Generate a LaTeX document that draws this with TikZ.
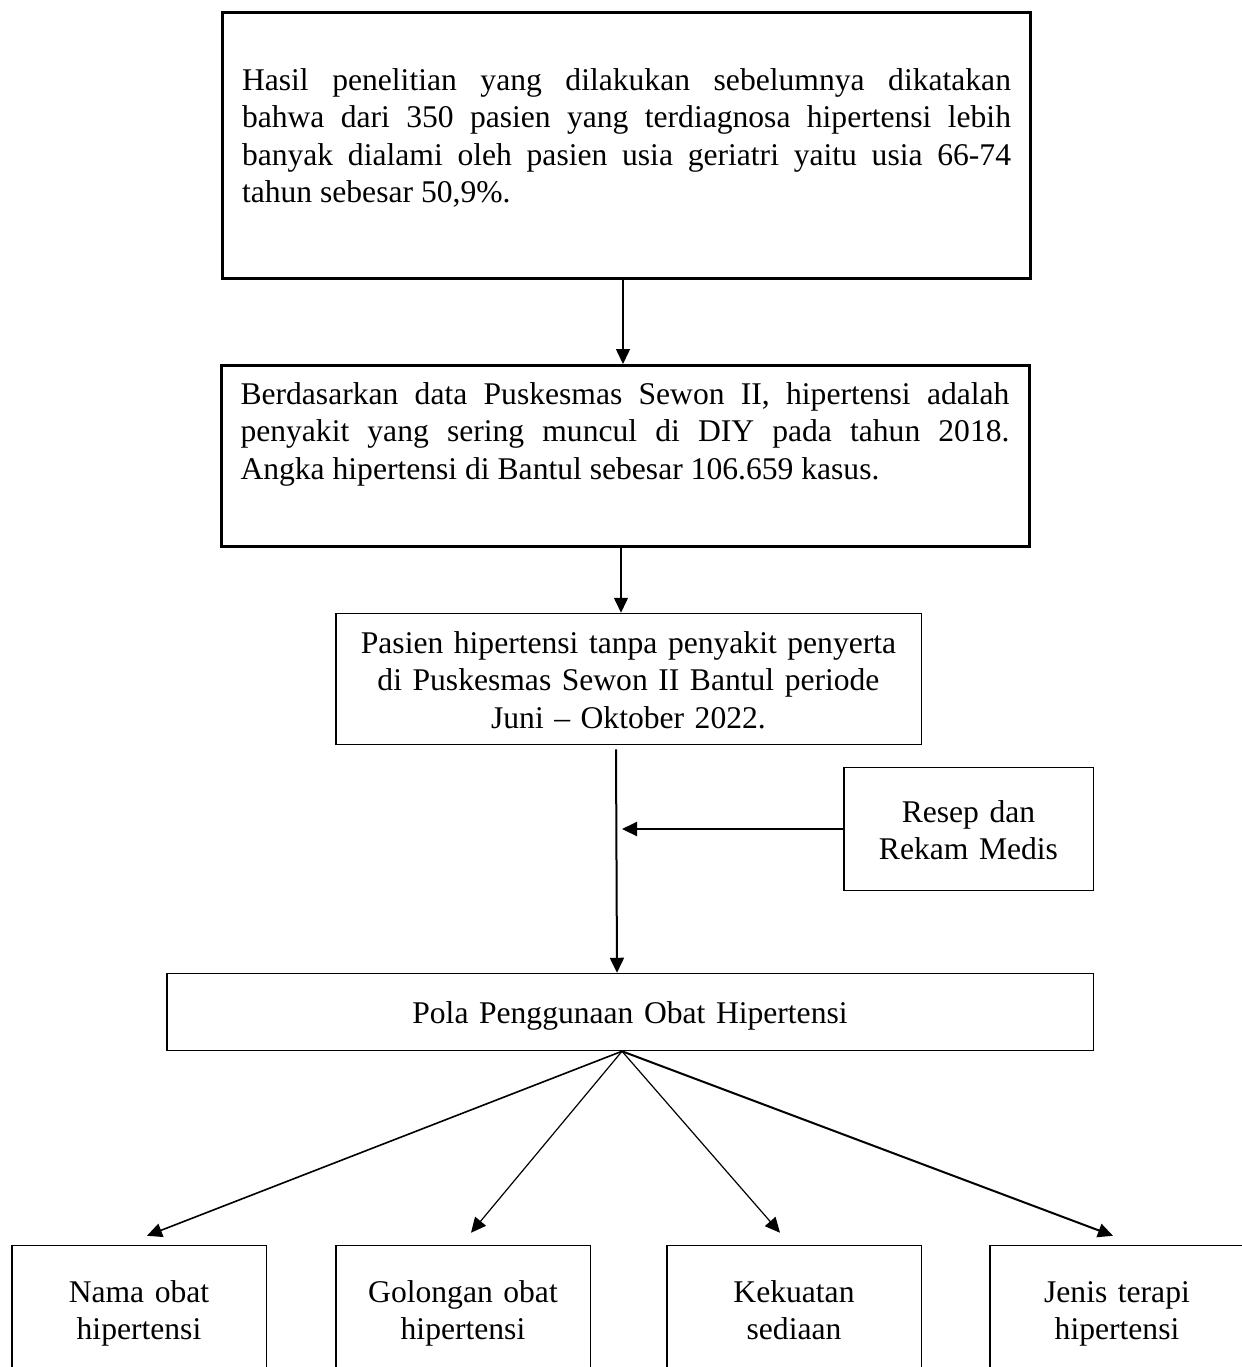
\documentclass[tikz,border=0pt]{standalone}
\usepackage{fontspec}
\setmainfont{Liberation Serif}
\usetikzlibrary{arrows.meta}
\tolerance=10000
\hyphenpenalty=10000

\begin{document}
\begin{tikzpicture}[x=0.5pt, y=-0.5pt,
  every node/.style={font=\fontsize{15.8}{18.75}\selectfont, inner sep=0pt},
  bigbox/.style={draw, line width=1.5pt, anchor=base, minimum width=404pt, text width=384.5pt, align=justify},
  smallbox/.style={draw, line width=0.75pt, anchor=base, align=center},
  itembox/.style={smallbox, minimum width=127.25pt, text width=115pt, text height=28.25pt, text depth=49pt},
  arr/.style={-{Triangle[length=7.5pt,width=7pt]}, line width=0.75pt}]

\useasboundingbox (0,0) rectangle (1242,1367);
\clip (0,0) rectangle (1242,1367);

% Boxes
\node[bigbox, text height=39pt, text depth=94pt] (hasil) at (626.5,90)
  {Hasil penelitian yang dilakukan sebelumnya dikatakan\linebreak
   bahwa dari 350 pasien yang terdiagnosa hipertensi lebih\linebreak
   banyak dialami oleh pasien usia geriatri yaitu usia 66-74\linebreak
   tahun sebesar 50,9\%.};
\node[bigbox, text height=19.25pt, text depth=71.25pt] (dasar) at (625,404)
  {Berdasarkan data Puskesmas Sewon II, hipertensi adalah\linebreak
   penyakit yang sering muncul di DIY pada tahun 2018.\linebreak
   Angka hipertensi di Bantul sebesar 106.659 kasus.};
\node[smallbox, minimum width=292.75pt, text width=285pt, text height=19.75pt, text depth=45.75pt] (pasien) at (628.5,653)
  {Pasien hipertensi tanpa penyakit penyerta\\di Puskesmas Sewon II Bantul periode\\Juni -- Oktober 2022.};
\node[smallbox, minimum width=124.75pt, text width=115pt, text height=27.25pt, text depth=34.25pt] (resep) at (968.5,822)
  {Resep dan\\Rekam Medis};
\node[smallbox, minimum width=463.25pt, text width=440pt, text height=24.75pt, text depth=13.75pt] (pola) at (630,1023)
  {Pola Penggunaan Obat Hipertensi};

% Bottom row
\node[itembox] (nama) at (139,1302) {Nama obat\\hipertensi};
\node[itembox] (golongan) at (463,1302) {Golongan obat\\hipertensi};
\node[itembox] (kekuatan) at (794,1302) {Kekuatan\\sediaan};
\node[itembox] (jenis) at (1117,1302) {Jenis terapi\\hipertensi};

% Arrows down
\draw[arr] ([xshift=-1.75pt]hasil.south) -- ([xshift=-1.75pt]hasil.south |- dasar.north);
\draw[arr] ([xshift=-2pt]dasar.south) -- ([xshift=-2pt]dasar.south |- pasien.north);
\draw[arr, line width=1pt] ([xshift=-6.25pt,yshift=-2pt]pasien.south) -- ([xshift=-6.5pt]pola.north);

% Resep joins the line
\coordinate (join) at (616,829);
\draw[arr, line width=1pt] (resep.west) -- ([xshift=3pt]join);

% Fan out
\coordinate (fan) at ([xshift=-4pt]pola.south);
\draw[arr, line width=0.8pt] (fan) -- ([xshift=4pt,yshift=4.5pt]nama.north);
\draw[arr, line width=0.6pt] (fan) -- ([xshift=4pt,yshift=6pt]golongan.north);
\draw[arr, line width=0.6pt] (fan) -- ([xshift=-7pt,yshift=6pt]kekuatan.north);
\draw[arr, line width=1pt] (fan) -- ([xshift=-2pt,yshift=4.5pt]jenis.north);

\end{tikzpicture}
\end{document}
